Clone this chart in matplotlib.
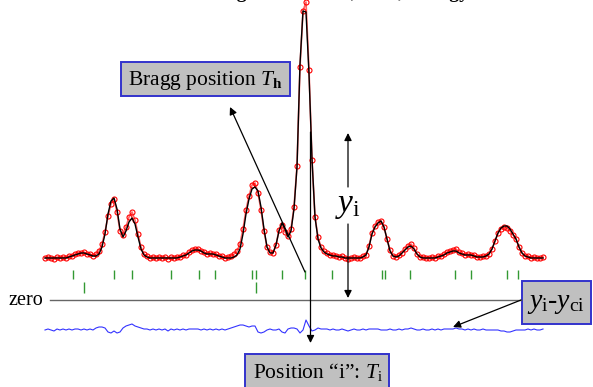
import numpy as np
import matplotlib
matplotlib.use("Agg")
import matplotlib.pyplot as plt
from matplotlib.patches import Rectangle

plt.rcParams['font.family'] = ['Liberation Serif', 'DejaVu Serif']
plt.rcParams['mathtext.fontset'] = 'custom'
plt.rcParams['mathtext.rm'] = 'Liberation Serif'
plt.rcParams['mathtext.it'] = 'Liberation Serif:italic'
plt.rcParams['mathtext.bf'] = 'Liberation Serif:bold'

### data (channel = scattering variable, counts above background)
channel = np.arange(45, 544, 3)

y_calc = [1, 1, 1, 1, 1, 1, 1, 1, 2, 3, 4, 5, 6, 6, 5, 4, 3, 3, 5, 12,
          25, 45, 58, 61, 50, 30, 22, 28, 37, 41, 35, 22, 10, 4, 2, 1, 1, 1, 1, 1,
          1, 1, 1, 1, 1, 2, 3, 4, 6, 8, 9, 9, 8, 6, 5, 5, 5, 4, 3, 2,
          1, 1, 1, 2, 4, 10, 25, 45, 60, 70, 72, 68, 52, 30, 12, 6, 6, 14, 28, 36,
          30, 22, 28, 50, 92, 195, 248, 247, 185, 100, 42, 20, 11, 7, 5, 4, 3, 3, 2, 2,
          1, 1, 1, 1, 1, 1, 2, 4, 12, 25, 32, 36, 38, 32, 20, 8, 3, 2, 3, 6,
          9, 12, 13, 10, 5, 2, 1, 1, 1, 1, 1, 2, 3, 4, 6, 7, 8, 8, 6, 5,
          4, 4, 4, 3, 2, 2, 2, 3, 5, 10, 18, 26, 31, 33, 33, 30, 25, 20, 12, 6,
          3, 2, 1, 1, 1, 1, 1]

y_obs = [1, 2, 1, 0, 2, 1, 2, 1, 3, 3, 5, 6, 6, 7, 5, 5, 3, 5, 8, 15,
         27, 43, 55, 60, 47, 28, 24, 32, 42, 47, 39, 25, 12, 5, 3, 1, 2, 1, 2, 1,
         2, 0, 2, 1, 2, 2, 4, 4, 7, 9, 10, 10, 8, 7, 5, 6, 5, 5, 3, 3,
         1, 2, 3, 5, 8, 15, 30, 49, 63, 74, 76, 66, 49, 28, 12, 7, 6, 14, 29, 34,
         27, 23, 30, 52, 93, 192, 248, 257, 189, 99, 42, 22, 12, 8, 6, 4, 4, 3, 2, 3,
         1, 0, 1, 2, 1, 1, 3, 4, 13, 26, 33, 37, 38, 32, 20, 9, 3, 2, 4, 6,
         10, 13, 15, 11, 5, 2, 2, 1, 1, 2, 1, 3, 3, 5, 7, 8, 9, 10, 7, 6,
         4, 5, 4, 4, 2, 2, 3, 3, 5, 10, 18, 26, 30, 32, 31, 28, 24, 20, 12, 6,
         3, 3, 1, 2, 1, 1, 2]

# Bragg reflection positions (two phases)
bragg_1 = [73, 114, 132, 171, 199, 215, 252, 256, 282, 305, 332, 382, 385,
           410, 455, 471, 507, 518]
bragg_2 = [84, 256]

### layout (figure is drawn in pixel-like units)
BASE = 128       # background level of the pattern
ZERO = 87        # zero line of the difference curve
DIFF_BASE = 57

fig = plt.figure(figsize=(5.93, 3.87), dpi=100)
ax = fig.add_axes([0, 0, 1, 1])
ax.set_xlim(0, 593)
ax.set_ylim(0, 387)
ax.axis('off')

y_calc = np.array(y_calc)
y_obs = np.array(y_obs)

ax.plot(channel, BASE + y_obs, '-', color='#ff6666', lw=1.2, zorder=2)
ax.plot(channel, BASE + y_obs, 'o', mfc='none', mec='red', ms=3.6, mew=0.8, zorder=3)
ax.plot(channel, BASE + y_calc, color='black', lw=1.0, zorder=4)
ax.plot(channel, DIFF_BASE + (y_obs - y_calc), color='#3333ff', lw=0.8, zorder=3)

ax.vlines(bragg_1, 108, 117, color='#339933', lw=1.0)
ax.vlines(bragg_2, 94, 105, color='#339933', lw=1.0)

ax.plot([50, 521], [ZERO, ZERO], color='#666666', lw=1.0)
ax.text(43, 82, 'zero', ha='right', va='baseline', fontsize=14.5)

# title, mostly outside the visible area
ax.text(315, 388.5, 'Scattering variable: 2\u03b8, TOF, Energy', ha='center',
        va='baseline', fontsize=14, fontweight='bold')

arrow = dict(arrowstyle='-|>', lw=0.9, color='black', mutation_scale=11,
             shrinkA=0, shrinkB=0)
ax.annotate('', xy=(230, 280), xytext=(305, 115), arrowprops=arrow)
ax.annotate('', xy=(310.5, 44), xytext=(310.5, 255), arrowprops=arrow)
ax.annotate('', xy=(348, 254), xytext=(348, 200), arrowprops=arrow)
ax.annotate('', xy=(348, 89), xytext=(348, 163), arrowprops=arrow)
ax.annotate('', xy=(453, 60), xytext=(521, 87), arrowprops=arrow)

ax.text(348, 181, r'$y_{\mathrm{i}}$', ha='center', va='center', fontsize=24)

box = dict(facecolor='#c0c0c0', edgecolor='#3333cc', lw=1.4)
ax.add_patch(Rectangle((121, 291), 169, 34, **box))
ax.text(205, 307, r'Bragg position $T_{\mathbf{h}}$', ha='center', va='center',
        fontsize=15.5)

ax.add_patch(Rectangle((245, -5), 144, 38, **box))
ax.text(318, 15, 'Position \u201ci\u201d: ' + r'$T_{\mathrm{i}}$',
        ha='center', va='center', fontsize=15.5)

ax.add_patch(Rectangle((522, 63), 69, 43, **box))
ax.text(556, 84, r'$y_{\mathrm{i}}$-$y_{\mathrm{ci}}$', ha='center', va='center',
        fontsize=20)

fig.savefig('out.png', dpi=100)
